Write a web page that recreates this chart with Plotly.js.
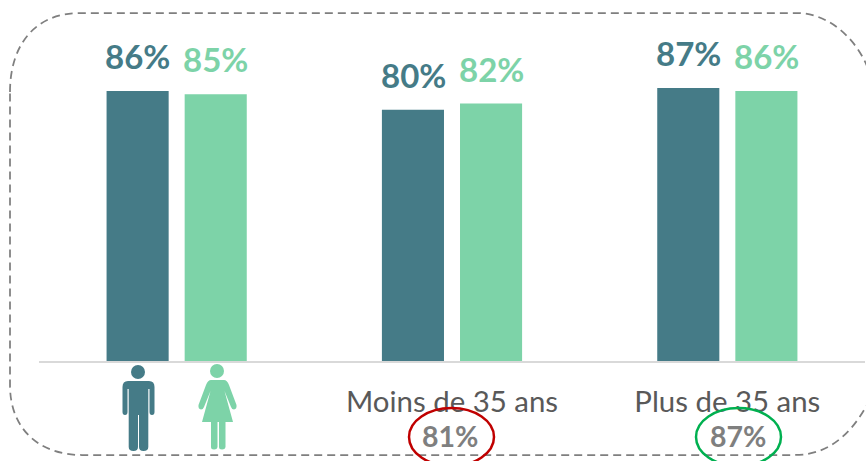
<!DOCTYPE html>
<html><head><meta charset="utf-8">
<script src="https://cdn.plot.ly/plotly-3.0.1.min.js"></script>
<style>html,body{margin:0;padding:0;background:#fff}</style></head>
<body><div id="chart" style="width:866px;height:461px"></div>
<script>
var categories = ['Tous', 'Moins de 35 ans', 'Plus de 35 ans'];
var tickLabels = ['', 'Moins de 35 ans', 'Plus de 35 ans'];
var hommes = [86, 80, 87];
var femmes = [85, 82, 86];
var totaux = ['81%', '87%'];

var L = 39, W = 826, H = 361;
function X(x){ return (x - L) / W; }
function Y(y){ return 1 - y / H; }
function P(x, y){ return X(x) + ',' + Y(y); }
function circle(cx, cy, rx, ry, color){
  return {type:'circle', xref:'paper', yref:'paper', x0:X(cx-rx), x1:X(cx+rx), y0:Y(cy+ry), y1:Y(cy-ry),
          fillcolor:color, line:{width:0}, layer:'above'};
}
function pathShape(segs, fill, line){
  var d = segs.map(function(s){
    return s[0] + s.slice(1).map(function(p){ return P(p[0], p[1]); }).join(' ');
  }).join(' ');
  return {type:'path', xref:'paper', yref:'paper', path:d, fillcolor:fill||'rgba(0,0,0,0)', line:line||{width:0}, layer:'above'};
}
var teal = '#457b87', mint = '#7dd3a8', grey = '#7f7f7f';

var man = [['M',[128,381]],['L',[149,381]],['Q',[154.5,381],[154.5,387]],['L',[154.5,412]],['Q',[154.5,415],[152,415]],['Q',[149.5,415],[149.5,412]],
  ['L',[149.5,389]],['L',[148.3,389]],['L',[148.3,447]],['Q',[148.3,451],[143.5,451]],['Q',[139,451],[139,447]],['L',[139,415]],['L',[138,415]],
  ['L',[138,447]],['Q',[138,451],[133.5,451]],['Q',[128.7,451],[128.7,447]],['L',[128.7,389]],['L',[127.5,389]],['L',[127.5,412]],['Q',[127.5,415],[125,415]],
  ['Q',[122.5,415],[122.5,412]],['L',[122.5,387]],['Q',[122.5,381],[128,381]],['Z']];
var woman = [['M',[211,380]],['L',[224,380]],['Q',[227,380],[229,385]],['L',[236.5,405]],['Q',[237,409],[234,409.5]],['Q',[232,409.5],[231,407]],
  ['L',[224.5,391]],['L',[233,422]],['L',[225.5,422]],['L',[225.5,447]],['Q',[225,449.5],[222,449.5]],['Q',[219,449.5],[219,447]],['L',[219,422]],['L',[217.5,422]],
  ['L',[217.5,447]],['Q',[217,449.5],[214,449.5]],['Q',[211,449.5],[211,447]],['L',[211,422]],['L',[202,422]],['L',[210.5,391]],['L',[204,407]],
  ['Q',[203,409.5],[201,409.5]],['Q',[198,409],[198.5,405]],['L',[206,385]],['Q',[208,380],[211,380]],['Z']];

var frame = [['M',[10,92]],['C',[10,45],[35,13],[80,13]],['L',[800,13]],['C',[830,15],[855,38],[867,66]],
  ['L',[867,405]],['C',[852,432],[830,455],[795,455]],['L',[82,455]],['C',[40,455],[10,430],[10,385]],['Z']];

var shapes = [
  pathShape(frame, null, {color:grey, width:1.75, dash:'8px,5px'}),
  circle(138,372,7,7,teal), pathShape(man, teal),
  circle(217,371,7,7,mint), pathShape(woman, mint),
  {type:'circle', xref:'paper', yref:'paper', x0:X(409), x1:X(494), y0:Y(466), y1:Y(408), line:{color:'#c00000',width:2.5}, layer:'above'},
  {type:'circle', xref:'paper', yref:'paper', x0:X(696), x1:X(781), y0:Y(466), y1:Y(408), line:{color:'#00b050',width:2.5}, layer:'above'}
];

var font = 'Lato, Carlito, sans-serif';
var annotations = [];
[[hommes, teal, -39],[femmes, mint, 39]].forEach(function(s){
  s[0].forEach(function(v,i){
    annotations.push({x:categories[i], y:v, xref:'x', yref:'y', text:v+'%', showarrow:false, xshift:s[2], yshift:35,
      font:{family:font, size:33, color:s[1], weight:700}, yanchor:'middle', xanchor:'center'});
  });
});
[[450,totaux[0]],[738,totaux[1]]].forEach(function(a){
  annotations.push({xref:'paper', yref:'paper', x:X(a[0]), y:Y(436), text:a[1], showarrow:false,
    font:{family:font, size:28.5, color:grey, weight:700}, yanchor:'middle', xanchor:'center'});
});

Plotly.newPlot('chart', [
  {type:'bar', name:'Hommes', x:categories, y:hommes, marker:{color:teal}, hoverinfo:'skip'},
  {type:'bar', name:'Femmes', x:categories, y:femmes, marker:{color:mint}, hoverinfo:'skip'}
], {
  width:866, height:461, showlegend:false, barmode:'group', bargap:0.4327, bargroupgap:0.205,
  margin:{l:L, r:1, t:0, b:100, pad:0},
  paper_bgcolor:'#fff', plot_bgcolor:'#fff',
  font:{family:font},
  xaxis:{type:'category', categoryorder:'array', categoryarray:categories, tickmode:'array', tickvals:categories, ticktext:tickLabels,
    showline:true, linecolor:'#d9d9d9', linewidth:2, showgrid:false, zeroline:false,
    ticks:'outside', ticklen:14, tickcolor:'rgba(0,0,0,0)', tickfont:{family:font, size:29.4, color:'#595959'}, automargin:false, tickangle:0},
  yaxis:{range:[0,115], visible:false, fixedrange:true},
  shapes:shapes, annotations:annotations
}, {displayModeBar:false, staticPlot:true});
</script></body></html>
